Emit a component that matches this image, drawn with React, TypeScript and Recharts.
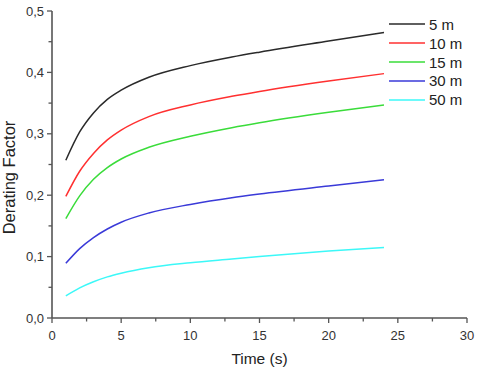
import React from 'react';
import { LineChart, Line, XAxis, YAxis } from 'recharts';

const times = [1, 2, 3, 4, 5, 7, 10, 13, 15, 20, 24];
const s5 = [0.257, 0.303, 0.334, 0.356, 0.371, 0.392, 0.411, 0.425, 0.433, 0.451, 0.465];
const s10 = [0.198, 0.239, 0.268, 0.290, 0.306, 0.328, 0.347, 0.361, 0.369, 0.386, 0.398];
const s15 = [0.162, 0.199, 0.226, 0.245, 0.259, 0.278, 0.296, 0.310, 0.318, 0.335, 0.347];
const s30 = [0.089, 0.113, 0.131, 0.145, 0.156, 0.171, 0.185, 0.196, 0.202, 0.215, 0.225];
const s50 = [0.036, 0.049, 0.059, 0.067, 0.073, 0.082, 0.090, 0.096, 0.100, 0.109, 0.115];

const seriesNames = ['5 m', '10 m', '15 m', '30 m', '50 m'];
const seriesKeys = ['s5', 's10', 's15', 's30', 's50'];
const seriesValues = [s5, s10, s15, s30, s50];
const seriesColors = ['#2a2a2a', '#ff3030', '#3adc3a', '#3a3ad8', '#3cf8f8'];

const xTicks = [0, 2.5, 5, 7.5, 10, 12.5, 15, 17.5, 20, 22.5, 25, 27.5, 30];
const yTicks = [0, 0.05, 0.1, 0.15, 0.2, 0.25, 0.3, 0.35, 0.4, 0.45, 0.5];

const data = times.map((t, i) => {
  const row: any = { t };
  seriesKeys.forEach((k, j) => {
    row[k] = seriesValues[j][i];
  });
  return row;
});

const AXIS = '#555555';
const FONT = '"Liberation Sans", Arial, sans-serif';

const XTick = (props: any) => {
  const { x, y, payload } = props;
  const v = payload.value;
  const major = v % 5 === 0;
  return (
    <g>
      <line x1={x} y1={y} x2={x} y2={y + (major ? 5 : 3.5)} stroke={AXIS} strokeWidth={1.3} />
      {major && (
        <text x={x} y={y + 17} textAnchor="middle" dominantBaseline="central" fontSize={13} fill="#333" fontFamily={FONT}>
          {v}
        </text>
      )}
    </g>
  );
};

const YTick = (props: any) => {
  const { x, y, payload } = props;
  const v = payload.value;
  const major = Math.round(v * 100) % 10 === 0;
  return (
    <g>
      <line x1={x} y1={y} x2={x - (major ? 5 : 3.5)} y2={y} stroke={AXIS} strokeWidth={1.3} />
      {major && (
        <text x={x - 8} y={y} textAnchor="end" dominantBaseline="central" fontSize={13} fill="#333" fontFamily={FONT}>
          {v.toFixed(1).replace('.', ',')}
        </text>
      )}
    </g>
  );
};

const XLabel = (props: any) => {
  const vb = props.viewBox || { x: 52, y: 318, width: 415, height: 52 };
  return (
    <text x={vb.x + vb.width / 2} y={vb.y + 40} textAnchor="middle" dominantBaseline="central" fontSize={15.5} fill="#222" fontFamily={FONT}>
      Time (s)
    </text>
  );
};

const YLabel = (props: any) => {
  const vb = props.viewBox || { x: 0, y: 11, width: 52, height: 307 };
  const cx = vb.x + 9;
  const cy = vb.y + vb.height / 2 + 13;
  return (
    <text x={cx} y={cy} transform={`rotate(-90 ${cx} ${cy})`} textAnchor="middle" dominantBaseline="central" fontSize={16.5} fill="#222" fontFamily={FONT}>
      Derating Factor
    </text>
  );
};

export default function App() {
  return (
    <div style={{ position: 'absolute', left: 0, top: 0, width: 480, height: 370, background: '#fff' }}>
      <LineChart width={480} height={370} data={data} margin={{ top: 11, right: 13, left: 0, bottom: 0 }}>
        <XAxis
          dataKey="t"
          type="number"
          domain={[0, 30]}
          ticks={xTicks}
          interval={0}
          tickSize={0}
          tickMargin={0}
          tickLine={false}
          tick={<XTick />}
          height={52}
          axisLine={{ stroke: AXIS, strokeWidth: 1.6 }}
          label={<XLabel />}
        />
        <XAxis
          xAxisId="top"
          orientation="top"
          dataKey="t"
          type="number"
          domain={[0, 30]}
          tick={false}
          tickLine={false}
          height={0}
          axisLine={{ stroke: AXIS, strokeWidth: 1.6 }}
        />
        <YAxis
          type="number"
          domain={[0, 0.5]}
          ticks={yTicks}
          interval={0}
          tickSize={0}
          tickMargin={0}
          tickLine={false}
          tick={<YTick />}
          width={52}
          axisLine={{ stroke: AXIS, strokeWidth: 1.6 }}
          label={<YLabel />}
        />
        <YAxis
          yAxisId="right"
          orientation="right"
          type="number"
          domain={[0, 0.5]}
          tick={false}
          tickLine={false}
          width={0}
          axisLine={{ stroke: AXIS, strokeWidth: 1.6 }}
        />
        {seriesKeys.map((k, j) => (
          <Line
            key={k}
            dataKey={k}
            name={seriesNames[j]}
            type="monotone"
            stroke={seriesColors[j]}
            strokeWidth={1.5}
            dot={false}
            isAnimationActive={false}
          />
        ))}
      </LineChart>
      <div style={{ position: 'absolute', left: 389, top: 15, fontFamily: FONT, fontSize: 15, color: '#222' }}>
        {seriesNames.map((n, j) => (
          <div key={n} style={{ display: 'flex', alignItems: 'center', height: 18.8 }}>
            <svg width={37} height={4} style={{ display: 'block' }}>
              <line x1={0} y1={2} x2={36} y2={2} stroke={seriesColors[j]} strokeWidth={1.5} />
            </svg>
            <span style={{ marginLeft: 3, lineHeight: '19px' }}>{n}</span>
          </div>
        ))}
      </div>
    </div>
  );
}
